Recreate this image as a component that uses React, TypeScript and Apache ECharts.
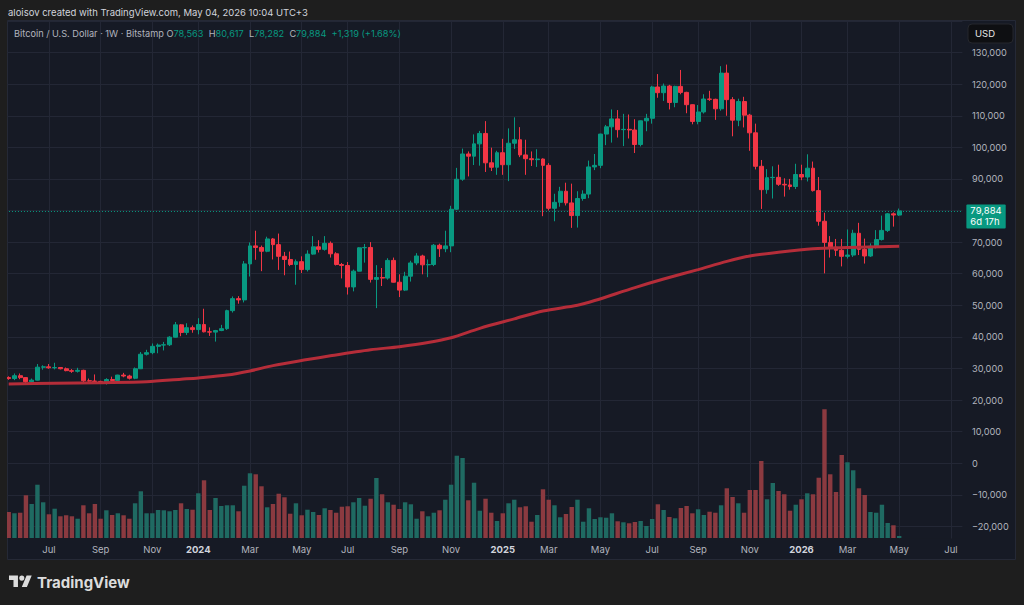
import React, { useEffect, useRef } from "react";
import * as echarts from "echarts";

// ---------- data ----------
const FIRST_WEEK = "2023-05-15"; // Monday of the first weekly bar
const FUTURE_WEEKS = 11;

const OPEN = [
  27100, 26800, 27700, 27100, 25800, 26300, 30400, 30500, 30200, 30300,
  29900, 29300, 29100, 29400, 26100, 26000, 25900, 25800, 26500, 26200,
  27900, 27600, 26900, 29900, 34500, 35000, 37000, 37400, 37500, 39900,
  43800, 41400, 42900, 42300, 43900, 41600, 41500, 42000, 42600, 48300,
  52100, 51700, 63100, 68800, 68300, 67100, 71000, 69200, 65500, 64500,
  62900, 63800, 61300, 66200, 68500, 67700, 69600, 66300, 62900, 62600,
  55800, 60800, 68200, 68300, 58200, 58800, 58600, 64200, 57300, 54800,
  59200, 63400, 65600, 62800, 62900, 69000, 67900, 68800, 80400, 89900,
  97900, 97200, 101100, 104400, 95100, 93700, 98300, 94500, 101300, 102400,
  97600, 96400, 96100, 96300, 94300, 80700, 82600, 86100, 82400, 78400,
  83800, 85200, 93800, 94300, 104200, 106500, 109000, 105600, 105700, 105500,
  100900, 108400, 109200, 119100, 117300, 119400, 114200, 119300, 117400, 113500,
  108200, 111200, 115300, 115200, 112200, 123500, 115100, 108600, 114500, 110200,
  104600, 94000, 86600, 90400, 90500, 88300, 88100, 87600, 91400, 90600,
  93400, 86300, 76600, 69900, 68400, 67400, 65500, 65900, 72800, 67700,
  65600, 68700, 70800, 73700, 78950, 78563,
];
const CLOSE = [
  26800, 27700, 27100, 25800, 26300, 30400, 30500, 30200, 30300, 29900,
  29300, 29100, 29400, 26100, 26000, 25900, 25800, 26500, 26200, 27900,
  27600, 26900, 29900, 34500, 35000, 37000, 37400, 37500, 39900, 43800,
  41400, 42900, 42300, 43900, 41600, 41500, 42000, 42600, 48300, 52100,
  51700, 63100, 68800, 68300, 67100, 71000, 69200, 65500, 64500, 62900,
  63800, 61300, 66200, 68500, 67700, 69600, 66300, 62900, 62600, 55800,
  60800, 68200, 68300, 58200, 58800, 58600, 64200, 57300, 54800, 59200,
  63400, 65600, 62800, 62900, 69000, 67900, 68800, 80400, 89900, 97900,
  97200, 101100, 104400, 95100, 93700, 98300, 94500, 101300, 102400, 97600,
  96400, 96100, 96300, 94300, 80700, 82600, 86100, 82400, 78400, 83800,
  85200, 93800, 94300, 104200, 106500, 109000, 105600, 105700, 105500, 100900,
  108400, 109200, 119100, 117300, 119400, 114200, 119300, 117400, 113500, 108200,
  111200, 115300, 115200, 112200, 123500, 115100, 108600, 114500, 110200, 104600,
  94000, 86600, 90400, 90500, 88300, 88100, 87600, 91400, 90600, 93400,
  86300, 76600, 69900, 68400, 67400, 65500, 65900, 72800, 67700, 65600,
  68700, 70800, 73700, 78950, 78565, 79884,
];
const LOW = [
  26400, 26300, 26600, 25400, 24800, 26200, 29600, 29900, 29700, 29700,
  29100, 28600, 28700, 25200, 25800, 25400, 25400, 24900, 26000, 26000,
  27200, 26500, 26600, 29800, 34100, 34500, 34800, 35700, 37100, 39800,
  40200, 40600, 41300, 40800, 41400, 40300, 38500, 41800, 42200, 47700,
  50500, 50900, 59100, 64400, 60800, 66800, 64500, 61200, 59500, 62400,
  56500, 60200, 60700, 66000, 66700, 67300, 65100, 62600, 58500, 53400,
  54400, 60700, 63500, 57200, 49100, 56100, 58100, 57200, 52600, 54500,
  57500, 62700, 59800, 58900, 62400, 65300, 66800, 66800, 80200, 89400,
  90800, 94400, 94200, 92200, 92500, 91300, 91300, 89300, 99500, 96900,
  91300, 94100, 93800, 78200, 80000, 76600, 81200, 81600, 74500, 74600,
  83100, 83900, 92800, 93400, 100700, 101500, 103100, 100400, 102800, 98200,
  100300, 105100, 107500, 115700, 114700, 112000, 112700, 116800, 110800, 107300,
  107300, 110700, 114700, 108700, 111600, 110000, 103500, 106700, 106300, 98900,
  93000, 80500, 85300, 83800, 87800, 84400, 86600, 86800, 89600, 89200,
  86000, 75200, 60100, 65100, 65600, 62300, 64800, 65300, 65900, 63200,
  65300, 68000, 70500, 73200, 74900, 78282,
];
const HIGH = [
  27500, 28400, 28400, 27200, 26800, 31400, 31000, 31400, 31800, 30400,
  30300, 29800, 30200, 29600, 26800, 28100, 26100, 26900, 27400, 28000,
  28600, 28000, 30300, 35200, 35900, 37900, 37900, 38400, 40200, 44700,
  44000, 44300, 43600, 45900, 48900, 43000, 42200, 43800, 48600, 52800,
  52900, 64000, 69900, 73600, 68900, 71700, 71300, 72700, 66900, 67000,
  64500, 65500, 67400, 71900, 70600, 71900, 70200, 66800, 63400, 63700,
  61300, 68400, 69400, 70000, 62700, 61800, 64900, 65100, 59800, 60600,
  64100, 66500, 66000, 64500, 69400, 69500, 73600, 81500, 93500, 99600,
  98700, 104100, 105200, 108300, 99900, 98900, 102700, 106000, 109500, 106400,
  102400, 98700, 99400, 96500, 95000, 85300, 87500, 88800, 88500, 86100,
  86400, 95800, 97900, 104300, 107100, 112000, 111800, 110600, 110400, 108900,
  108500, 110600, 119500, 123200, 120200, 119800, 119500, 124500, 117600, 113600,
  113400, 116800, 117900, 115400, 125700, 126200, 115900, 115400, 116000, 110600,
  107500, 96000, 93100, 94000, 94500, 90200, 90000, 94800, 94500, 97800,
  95500, 90600, 79300, 71900, 71000, 71000, 74000, 73900, 76100, 71100,
  69600, 73800, 78400, 79200, 79400, 80617,
];
const VOLUME = [
  7280, 6920, 7080, 11960, 9520, 14920, 10000, 6640, 8200, 6080,
  6360, 6080, 5400, 9160, 6920, 9520, 5400, 7760, 6440, 6920,
  6360, 5400, 9720, 13080, 6920, 6920, 7840, 7760, 7480, 7840,
  9720, 8120, 7920, 12520, 16160, 7840, 11200, 8960, 9160, 9160,
  7480, 14640, 18120, 17840, 14480, 8600, 9520, 12400, 11400, 6800,
  9720, 6360, 7920, 7280, 6440, 8320, 7840, 7080, 8760, 8880,
  10000, 11200, 9040, 11000, 16800, 12240, 10000, 9320, 8120, 10000,
  9440, 5400, 7480, 6080, 7080, 7760, 10720, 14920, 23040, 22400,
  10560, 15480, 7640, 11000, 7080, 4760, 6920, 9720, 10720, 8600,
  8880, 4560, 6440, 13640, 10720, 9160, 5800, 6720, 8680, 10720,
  4560, 8320, 5320, 5800, 5680, 6920, 4680, 4400, 4120, 4480,
  4760, 3360, 5320, 9440, 7840, 5880, 5520, 8400, 8960, 6920,
  8040, 6440, 7360, 7080, 9160, 13920, 11480, 9720, 7080, 13440,
  13440, 21560, 10840, 15400, 13160, 12240, 7640, 9320, 10840, 12520,
  12240, 16880, 36040, 17840, 12880, 23240, 21200, 18960, 13920, 12040,
  7280, 7080, 9320, 4200, 3560, 571,
];
// moving average at these weeks (index into the bars above)
const MA_WEEK = [0, 8, 16, 24, 30, 33, 38, 42, 46, 52, 56, 63, 68, 73, 77, 82, 88, 93, 99, 102, 109, 114, 120, 125, 129, 134, 140, 146, 155];
const MA_VALUE = [25100, 25300, 25500, 25800, 26600, 27000, 27900, 29200, 30900, 32800, 34000, 35900, 36900, 38200, 39700, 42700, 45700, 48200, 50000, 51500, 55600, 58300, 61300, 63900, 65600, 66800, 67900, 68300, 68705];
const MONTHS = ["Jan", "Feb", "Mar", "Apr", "May", "Jun", "Jul", "Aug", "Sep", "Oct", "Nov", "Dec"];
const TIMER = "6d 17h";
const HEADER = "aloisov created with TradingView.com, May 04, 2026 10:04 UTC+3";
const SYMBOL = "Bitcoin / U.S. Dollar · 1W · Bitstamp";

// ---------- styling / layout ----------
const UP = "#089981";
const DOWN = "#f23645";
const VOL_UP = "#1f6a62";
const VOL_DOWN = "#8b3a40";
const MA_COLOR = "#b52d39";
const OUTER = "#1e1e1e";
const PANEL = "#161a25";
const GRID = "#232735";
const TEXT = "#b2b5be";
const FONT = "Inter, 'Noto Sans', sans-serif";

const STEP = 5.745;
const GRID_LEFT = 8.7 - STEP;
const GRID_TOP = 21;
const USD_PER_PX = 316.6;
const PRICE_MIN = -30000;
const PRICE_MAX = 140000;
const GRID_H = (PRICE_MAX - PRICE_MIN) / USD_PER_PX;
const VOL_BASE_Y = 538;
const VOL_PER_PX = 280;

const LOGO_D =
  "M14 22H7V11H0V4h14v18zM28 22h-8l7.5-18h8L28 22zM24 8a4 4 0 1 1-8 0a4 4 0 1 1 8 0z";
echarts.graphic.registerShape("tvlogo", echarts.graphic.extendPath(LOGO_D, {}));

const fmt = (v: number) => Math.round(v).toLocaleString("en-US");
const fmtAxis = (v: number) => (v < 0 ? "\u2212" + fmt(-v) : fmt(v));

function buildOption() {
  const n = OPEN.length;
  const total = 1 + n + FUTURE_WEEKS;
  const start = Date.parse(FIRST_WEEK + "T00:00:00Z") - 7 * 864e5;
  const dates: Date[] = [];
  for (let k = 0; k < total; k++) dates.push(new Date(start + k * 7 * 864e5));
  const cats = dates.map((d) => d.toISOString().slice(0, 10));
  const isTick = dates.map((d) => d.getUTCDate() <= 7 && d.getUTCMonth() % 2 === 0);

  const pad = (arr: any[]) => ["-", ...arr, ...Array(FUTURE_WEEKS).fill("-")];
  const candles = pad(OPEN.map((o, i) => [o, CLOSE[i], LOW[i], HIGH[i]]));
  const vols = pad(
    VOLUME.map((v, i) => ({
      value: v,
      itemStyle: { color: CLOSE[i] >= OPEN[i] ? VOL_UP : VOL_DOWN },
    }))
  );
  const maArr: any[] = Array(total).fill(null);
  MA_WEEK.forEach((w, j) => (maArr[w + 1] = MA_VALUE[j]));

  const last = n - 1;
  const change = CLOSE[last] - CLOSE[last - 1];
  const pct = (change / CLOSE[last - 1]) * 100;
  const sign = change >= 0 ? "+" : "\u2212";
  const volMax = (VOL_BASE_Y - GRID_TOP) * VOL_PER_PX;
  const volMin = -(GRID_TOP + GRID_H - VOL_BASE_Y) * VOL_PER_PX;
  const gridWidth = (total - 1) * STEP;

  const txt = (x: number, y: number, text: string, fill: string, size = 9.5, weight: any = "normal") => ({
    type: "text",
    x,
    y,
    z: 110,
    style: { text, fill, fontSize: size, fontFamily: FONT, fontWeight: weight, verticalAlign: "middle" },
  });

  const legendText =
    "{g|" + SYMBOL + "} {g|O}{v|" + fmt(OPEN[last]) + "}  {g|H}{v|" + fmt(HIGH[last]) +
    "}  {g|L}{v|" + fmt(LOW[last]) + "}  {g|C}{v|" + fmt(CLOSE[last]) + "}  {v|" +
    sign + fmt(Math.abs(change)) + " (" + sign + Math.abs(pct).toFixed(2) + "%)}";

  const graphic: any[] = [
    { type: "rect", z: -5, shape: { x: 7.5, y: 20.5, width: 1008, height: 539 }, style: { fill: PANEL, stroke: "#252936", lineWidth: 1 } },
    { type: "rect", z: 100, shape: { x: 0, y: 0, width: 7, height: 605 }, style: { fill: OUTER } },
    { type: "rect", z: 50, shape: { x: 8, y: 538.6, width: 958, height: 20.4 }, style: { fill: PANEL } },
    txt(8, 12, HEADER, "#d1d4dc"),
    {
      type: "text",
      x: 14,
      y: 33,
      z: 110,
      style: {
        text: legendText,
        fill: TEXT,
        fontSize: 9.2,
        fontFamily: FONT,
        verticalAlign: "middle",
        rich: {
          g: { fill: TEXT, fontSize: 9.2, fontFamily: FONT },
          v: { fill: UP, fontSize: 9.2, fontFamily: FONT },
        },
      },
    },
    { type: "rect", z: 105, shape: { x: 968, y: 24, width: 45, height: 19, r: 4 }, style: { fill: "#0e0f12", stroke: "#25272d", lineWidth: 1 } },
    txt(975, 33.5, "USD", "#e8e8e8", 9.5),
    { type: "tvlogo", x: 9, y: 573, scaleX: 0.64, scaleY: 0.64, z: 110, style: { fill: "#dcdcdc" } },
    txt(37, 582, "TradingView", "#dcdcdc", 15, 700),
  ];

  const tagLabel = (bg: string, formatter: string, offset: number[]) => ({
    show: true,
    position: "end",
    distance: 4,
    formatter,
    backgroundColor: bg,
    color: "#ffffff",
    fontSize: 9.5,
    fontFamily: FONT,
    lineHeight: 11,
    padding: [1, 4, 1, 4],
    borderRadius: 1,
    offset,
  });

  return {
    animation: false,
    backgroundColor: OUTER,
    textStyle: { fontFamily: FONT },
    grid: { left: GRID_LEFT, top: GRID_TOP, width: gridWidth, height: GRID_H, containLabel: false },
    xAxis: [
      {
        type: "category",
        data: cats,
        boundaryGap: false,
        axisLine: { show: false },
        axisTick: { show: false },
        axisLabel: { show: false },
        splitLine: { show: true, interval: (i: number) => isTick[i], lineStyle: { color: GRID, width: 1 } },
      },
      {
        type: "category",
        data: cats,
        boundaryGap: false,
        position: "bottom",
        z: 60,
        axisLine: { show: false },
        axisTick: { show: false },
        splitLine: { show: false },
        axisLabel: {
          interval: (i: number) => isTick[i],
          margin: -8,
          verticalAlign: "middle",
          color: TEXT,
          fontSize: 9.5,
          fontFamily: FONT,
          formatter: (v: string) => {
            const d = new Date(v + "T00:00:00Z");
            return d.getUTCMonth() === 0 ? "{y|" + d.getUTCFullYear() + "}" : MONTHS[d.getUTCMonth()];
          },
          rich: { y: { fontWeight: "bold", color: "#d1d4dc", fontSize: 9.5, fontFamily: FONT } },
        },
      },
    ],
    yAxis: [
      {
        type: "value",
        position: "right",
        min: PRICE_MIN,
        max: PRICE_MAX,
        interval: 10000,
        axisLine: { show: false },
        axisTick: { show: false },
        splitLine: { lineStyle: { color: GRID, width: 1 } },
        axisLabel: {
          color: TEXT,
          fontSize: 9.2,
          fontFamily: FONT,
          margin: 9.6,
          showMinLabel: false,
          showMaxLabel: false,
          formatter: (v: number) => fmtAxis(v),
        },
      },
      { type: "value", min: volMin, max: volMax, show: false },
    ],
    series: [
      {
        type: "bar",
        name: "Volume",
        xAxisIndex: 0,
        yAxisIndex: 1,
        barWidth: 4.4,
        data: vols,
        z: 1,
        markLine: {
          silent: true,
          symbol: ["none", "none"],
          lineStyle: { opacity: 0 },
          label: tagLabel("#22a08c", fmt(VOLUME[last]), [0, -4]),
          data: [{ yAxis: VOLUME[last] }],
        },
      },
      {
        type: "candlestick",
        name: "BTCUSD",
        xAxisIndex: 0,
        yAxisIndex: 0,
        barWidth: 4.4,
        data: candles,
        z: 2,
        itemStyle: { color: UP, color0: DOWN, borderColor: UP, borderColor0: DOWN, borderWidth: 1 },
        markLine: {
          silent: true,
          symbol: ["none", "none"],
          lineStyle: { color: UP, type: [1, 2], width: 1 },
          label: tagLabel(UP, fmt(CLOSE[last]) + "\n" + TIMER, [0, 5.5]),
          data: [{ yAxis: CLOSE[last] }],
        },
      },
      {
        type: "line",
        name: "MA",
        xAxisIndex: 0,
        yAxisIndex: 0,
        data: maArr,
        connectNulls: true,
        smooth: 0.3,
        showSymbol: false,
        z: 3,
        lineStyle: { color: MA_COLOR, width: 3 },
        markLine: {
          silent: true,
          symbol: ["none", "none"],
          lineStyle: { opacity: 0 },
          label: tagLabel("#cc2f3c", fmt(MA_VALUE[MA_VALUE.length - 1]), [0, 0]),
          data: [{ yAxis: MA_VALUE[MA_VALUE.length - 1] }],
        },
      },
    ],
    graphic,
  };
}

export default function App() {
  const ref = useRef<HTMLDivElement>(null);
  useEffect(() => {
    if (!ref.current) return;
    const chart = echarts.init(ref.current, undefined, { renderer: "svg", width: 1024, height: 605 });
    chart.setOption(buildOption() as any);
    return () => chart.dispose();
  }, []);
  return <div ref={ref} style={{ position: "fixed", left: 0, top: 0, width: 1024, height: 605 }} />;
}
